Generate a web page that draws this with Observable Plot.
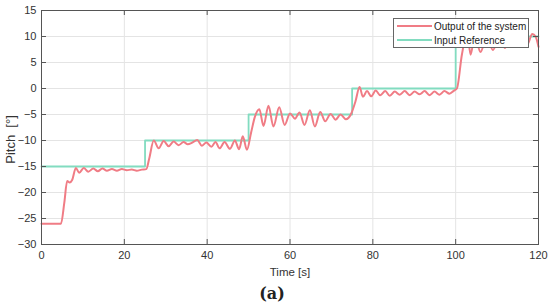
<!DOCTYPE html>
<html><head><meta charset="utf-8">
<script src="https://cdn.jsdelivr.net/npm/d3@7"></script>
<script src="https://cdn.jsdelivr.net/npm/@observablehq/plot@0.6"></script>
<style>
body{margin:0;background:#fff;font-family:"Liberation Sans",Arial,sans-serif}
#wrap{position:relative;width:550px;height:308px}
#legend{position:absolute;left:393px;top:18px;width:134px;height:28px;border:1px solid #666;background:#fff}
</style></head><body><div id="wrap"></div>
<script>
// Reference (input) steps
const refTimes = [0, 25, 50, 75, 100, 120];
const refValues = [-15, -10, -5, 0, 10, 10];

// Output of the system
const outTimes = [0,4.7,5.5,6.2,6.8,7.4,8.3,9.1,10.2,11.3,12.5,13.6,14.7,15.8,17.0,18.2,19.4,20.6,21.8,23.0,24.2,25.3,
  26.0,27.1,28.3,29.5,30.7,31.9,33.1,34.3,35.3,36.4,37.6,38.7,39.8,41.0,42.0,43.0,44.2,45.5,46.7,47.7,48.6,49.6,
  50.6,51.5,52.6,53.6,54.8,56.0,57.4,58.7,60.0,61.2,62.3,63.5,64.8,66.0,67.3,68.5,69.8,71.0,72.2,73.5,74.8,
  75.8,76.8,77.6,78.6,79.6,80.7,81.8,83.0,84.1,85.3,86.5,87.7,88.9,90.1,91.3,92.5,93.7,94.9,96.1,97.3,98.5,99.6,
  100.3,101.5,102.8,103.6,104.6,106.0,107.5,109.0,110.5,111.9,113.3,114.7,116.0,117.3,118.5,119.3,120];
const outValues = [-26,-26,-22,-17.8,-18.1,-17.6,-15.3,-16.2,-15.3,-16.0,-15.4,-15.9,-15.4,-15.8,-15.5,-15.8,-15.5,-15.7,-15.6,-15.8,-15.6,-15.5,
  -13.5,-10.0,-11.5,-10.1,-11.1,-10.2,-10.9,-10.3,-10.7,-10.4,-9.9,-11.0,-10.4,-11.2,-10.3,-11.5,-10.3,-11.6,-10.0,-11.7,-9.2,-11.8,
  -8.5,-5.5,-4.0,-7.2,-3.3,-7.3,-3.6,-7.0,-4.8,-5.8,-4.6,-7.0,-4.2,-7.3,-4.5,-6.3,-4.9,-6.0,-5.0,-5.9,-4.8,
  -2.5,0.3,-1.6,-0.5,-1.5,-0.4,-1.3,-0.5,-1.4,-0.6,-1.2,-0.5,-1.3,-0.6,-1.1,-0.5,-1.3,-0.6,-1.2,-0.5,-1.0,-0.4,
  0.0,6.5,10.8,6.5,10.2,7.0,10.0,7.4,9.8,7.8,9.8,8.2,9.9,8.5,10.5,10.0,8.0];

const xTicks = [0, 20, 40, 60, 80, 100, 120];
const yTicks = [-30, -25, -20, -15, -10, -5, 0, 5, 10, 15];
const seriesNames = ["Output of the system", "Input Reference"];
const seriesColors = ["#f07c85", "#82dcc0"];

const refData = refTimes.map((t, i) => ({t, v: refValues[i]}));
const outData = outTimes.map((t, i) => ({t, v: outValues[i]}));

const W = 550, H = 308, mL = 41, mR = 12, mT = 10, mB = 64;
const innerW = W - mL - mR, innerH = H - mT - mB;
const axisColor = "#555";

const chart = Plot.plot({
  width: W, height: H, marginLeft: mL, marginRight: mR, marginTop: mT, marginBottom: mB,
  style: {fontFamily: "'Liberation Sans', Arial, sans-serif", fontSize: "11px", color: "#333", background: "#fff", overflow: "visible"},
  x: {domain: [0, 120]},
  y: {domain: [-30, 15]},
  marks: [
    Plot.gridX(xTicks, {stroke: "#e4e4e4", strokeOpacity: 1}),
    Plot.gridY(yTicks, {stroke: "#e4e4e4", strokeOpacity: 1}),
    Plot.line(refData, {x: "t", y: "v", curve: "step-after", stroke: seriesColors[1], strokeWidth: 1.8}),
    Plot.line(outData, {x: "t", y: "v", curve: "monotone-x", stroke: seriesColors[0], strokeWidth: 2}),
    Plot.ruleX(xTicks, {x: d => d, insetTop: innerH - 5, stroke: axisColor}),
    Plot.ruleX(xTicks, {x: d => d, insetBottom: innerH - 5, stroke: axisColor}),
    Plot.ruleY(yTicks, {y: d => d, insetRight: innerW - 5, stroke: axisColor}),
    Plot.ruleY(yTicks, {y: d => d, insetLeft: innerW - 5, stroke: axisColor}),
    Plot.frame({stroke: axisColor}),
    Plot.axisX(xTicks, {tickSize: 0, tickPadding: 7, label: null, fontSize: 11}),
    Plot.axisY(yTicks, {tickSize: 0, tickPadding: 5, label: null, fontSize: 11}),
    Plot.text(["Time [s]"], {frameAnchor: "bottom", lineAnchor: "middle", textAnchor: "middle", dy: 28, fontSize: 11.5, fill: "#333"}),
    Plot.text(["Pitch\u00a0\u00a0[°]"], {frameAnchor: "left", lineAnchor: "middle", textAnchor: "middle", dx: -31, dy: 12, rotate: -90, fontSize: 13, fill: "#333"}),
    Plot.text(["(a)"], {frameAnchor: "bottom", lineAnchor: "middle", textAnchor: "middle", dx: -18, dy: 49, fontSize: 16, fontWeight: "bold", fontFamily: "'DejaVu Serif', 'Liberation Serif', serif", fill: "#222"})
  ]
});
const wrap = document.getElementById("wrap");
wrap.appendChild(chart);

const legend = document.createElement("div");
legend.id = "legend";
legend.innerHTML = `<svg width="134" height="28" style="display:block">
  ${seriesNames.map((n, i) => `<line x1="3" x2="38" y1="${7 + i * 14}" y2="${7 + i * 14}" stroke="${seriesColors[i]}" stroke-width="2"/>
  <text x="40" y="${7 + i * 14}" dy="0.35em" font-size="10" fill="#222" font-family="Liberation Sans, Arial, sans-serif">${n}</text>`).join("")}
</svg>`;
wrap.appendChild(legend);
</script>
</body></html>
